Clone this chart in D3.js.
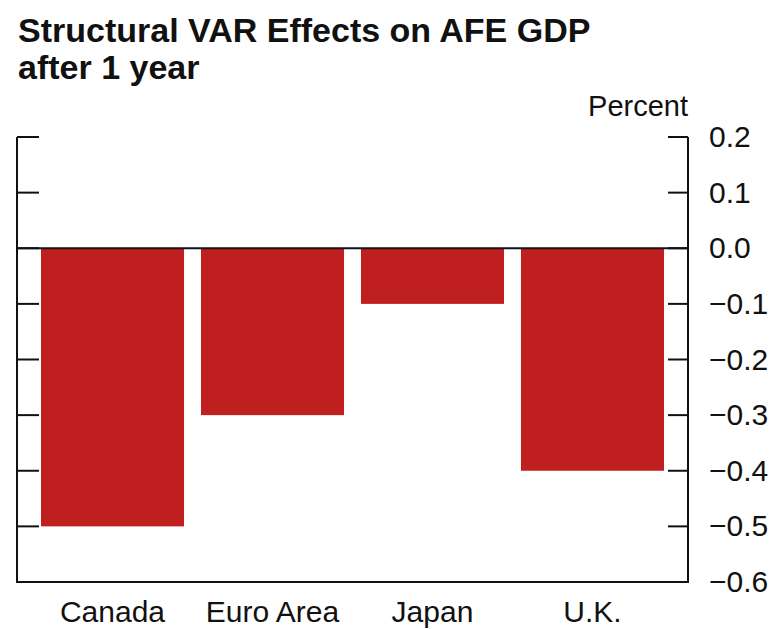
<!DOCTYPE html>
<html>
<head>
<meta charset="utf-8">
<script src="https://cdn.jsdelivr.net/npm/d3@7"></script>
<style>
  html, body { margin: 0; padding: 0; background: #fff; }
  svg { display: block; font-family: "Liberation Sans", Arial, sans-serif; }
</style>
</head>
<body>
<svg id="chart" width="775" height="629"></svg>
<script>
const categories = ["Canada", "Euro Area", "Japan", "U.K."];
const values = [-0.5, -0.3, -0.1, -0.4];
const yTicks = [0.2, 0.1, 0.0, -0.1, -0.2, -0.3, -0.4, -0.5, -0.6];
const titleLines = ["Structural VAR Effects on AFE GDP", "after 1 year"];
const unitLabel = "Percent";

(function () {
const svg = d3.select("#chart");
const pLeft = 17, pRight = 688, pTop = 137, pBottom = 582;

const y = d3.scaleLinear().domain([-0.6, 0.2]).range([pBottom, pTop]);
const x = d3.scaleBand().domain(categories).range([pLeft, pRight])
  .paddingInner(0.106).paddingOuter(0.15);

// Title
svg.append("g").selectAll("text").data(titleLines).join("text")
  .attr("x", 18).attr("y", (d, i) => 42 + i * 37)
  .attr("font-size", 34).attr("font-weight", "bold").attr("fill", "#111")
  .text(d => d);

// Unit label
svg.append("text").attr("x", pRight).attr("y", 116).attr("text-anchor", "end")
  .attr("font-size", 29).attr("fill", "#111").text(unitLabel);

// Bars
svg.append("g").selectAll("rect").data(values).join("rect")
  .attr("x", (d, i) => x(categories[i]))
  .attr("width", x.bandwidth())
  .attr("y", d => y(Math.max(0, d)))
  .attr("height", d => Math.abs(y(d) - y(0)))
  .attr("fill", "#c01f1f");

// Frame
const frame = svg.append("g").attr("stroke", "#111").attr("stroke-width", 2).attr("fill", "none");
frame.append("line").attr("x1", pLeft).attr("x2", pLeft).attr("y1", pTop).attr("y2", pBottom + 1);
frame.append("line").attr("x1", pRight).attr("x2", pRight).attr("y1", pTop).attr("y2", pBottom + 1);
frame.append("line").attr("x1", pLeft).attr("x2", pRight).attr("y1", pBottom).attr("y2", pBottom);
frame.append("line").attr("x1", pLeft).attr("x2", pRight).attr("y1", y(0)).attr("y2", y(0));

// Right axis labels
const rightAxis = d3.axisRight(y).tickValues(yTicks).tickSize(0).tickPadding(21)
  .tickFormat(d => d3.format(".1f")(d).replace("-", "\u2212"));
const ra = svg.append("g").attr("transform", `translate(${pRight},0)`).call(rightAxis);
ra.select(".domain").remove();
ra.selectAll("text").attr("font-size", 30).attr("fill", "#111")
  .attr("font-family", "Liberation Sans, Arial, sans-serif");

// Inward ticks on both sides
frame.selectAll(".lt").data(yTicks).join("line").attr("class", "lt")
  .attr("x1", pLeft).attr("x2", pLeft + 22).attr("y1", d => y(d)).attr("y2", d => y(d));
frame.selectAll(".rt").data(yTicks).join("line").attr("class", "rt")
  .attr("x1", pRight - 20).attr("x2", pRight).attr("y1", d => y(d)).attr("y2", d => y(d));

// Category labels
svg.append("g").selectAll("text").data(categories).join("text")
  .attr("x", d => x(d) + x.bandwidth() / 2).attr("y", 622)
  .attr("text-anchor", "middle").attr("font-size", 30).attr("fill", "#111")
  .text(d => d);
})();
</script>
</body>
</html>
